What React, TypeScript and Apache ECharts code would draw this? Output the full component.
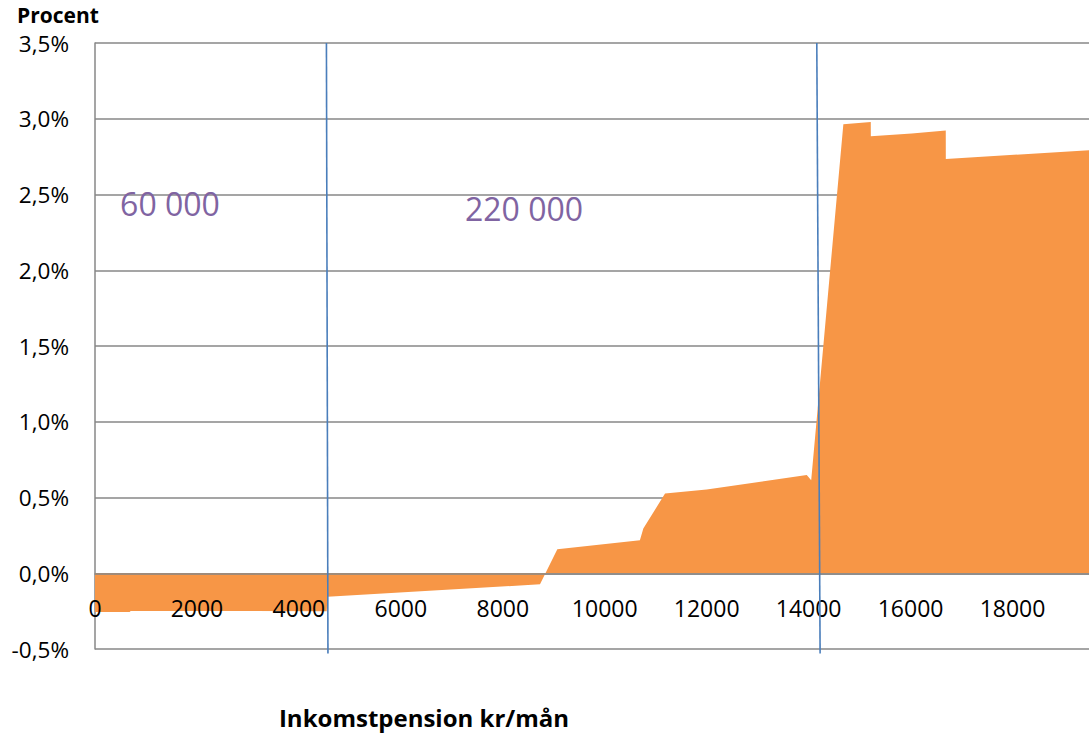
import React, { useEffect, useRef } from "react";
import * as echarts from "echarts";

// Inkomstpension (kr/mån) and change in percent
const areaX = [0, 680, 700, 4545, 4560, 8730, 9070, 10690, 10757, 11183, 12000, 13963, 14050, 14681, 15219, 15220, 16023, 16690, 16691, 19500];
const areaY = [-0.256, -0.256, -0.249, -0.25, -0.155, -0.073, 0.158, 0.218, 0.295, 0.526, 0.552, 0.649, 0.614, 2.964, 2.979, 2.884, 2.902, 2.922, 2.735, 2.792];

const line1X = [4540, 4570];
const line2X = [14160, 14225];
const lineY = [3.5, -0.53];

const yTicks = { min: -0.5, max: 3.5, interval: 0.5 };
const xTicks = { min: 0, max: 19500, interval: 2000 };

const annotations = [
  { text: "60 000", x: 170, y: 203 },
  { text: "220 000", x: 524, y: 208 },
];

const FONT = "'Open Sans', 'Noto Sans', sans-serif";

export default function App() {
  const ref = useRef<HTMLDivElement>(null);
  useEffect(() => {
    if (!ref.current) return;
    const chart = echarts.init(ref.current, null, { renderer: "svg" });
    const areaData = areaX.map((x, i) => [x, areaY[i]]);
    const l1 = line1X.map((x, i) => [x, lineY[i]]);
    const l2 = line2X.map((x, i) => [x, lineY[i]]);
    const gridTop = 43;
    const gridBottom = 88;
    const plotH = 737 - gridTop - gridBottom;
    const zeroOffset = -plotH * (0 - yTicks.min) / (yTicks.max - yTicks.min);
    chart.setOption({
      animation: false,
      backgroundColor: "#ffffff",
      textStyle: { fontFamily: FONT },
      grid: { left: 95, right: 0, top: gridTop, bottom: gridBottom, containLabel: false },
      xAxis: {
        type: "value",
        position: "bottom",
        offset: zeroOffset,
        min: xTicks.min,
        max: xTicks.max,
        interval: xTicks.interval,
        z: 5,
        axisLine: { show: true, onZero: false, lineStyle: { color: "#878787", width: 1.5 } },
        axisTick: { show: false },
        splitLine: { show: false },
        axisLabel: {
          show: true,
          margin: 23,
          fontSize: 23,
          color: "#000000",
          fontFamily: FONT,
          showMaxLabel: false,
          showMinLabel: true,
          formatter: (v: number) => String(v),
        },
      },
      yAxis: {
        type: "value",
        min: yTicks.min,
        max: yTicks.max,
        interval: yTicks.interval,
        axisLine: { show: true, lineStyle: { color: "#878787", width: 1.5 } },
        axisTick: { show: false },
        splitLine: { show: true, lineStyle: { color: "#878787", width: 1.5 } },
        axisLabel: {
          margin: 26,
          fontSize: 22.5,
          lineHeight: 18,
          color: "#000000",
          fontFamily: FONT,
          formatter: (v: number) => v.toFixed(1).replace(".", ",") + "%",
        },
      },
      series: [
        {
          type: "line",
          data: areaData,
          showSymbol: false,
          symbol: "none",
          lineStyle: { width: 0, color: "#F79646" },
          areaStyle: { color: "#F79646", opacity: 1 },
          itemStyle: { color: "#F79646" },
          z: 2,
        },
        {
          type: "line",
          data: l1,
          showSymbol: false,
          symbol: "none",
          clip: false,
          lineStyle: { width: 1.6, color: "#4A7EBB" },
          z: 6,
        },
        {
          type: "line",
          data: l2,
          showSymbol: false,
          symbol: "none",
          clip: false,
          lineStyle: { width: 1.6, color: "#4A7EBB" },
          z: 6,
        },
      ],
      graphic: [
        {
          type: "text",
          x: 17,
          y: 15,
          style: {
            text: "Procent",
            fontSize: 21,
            lineHeight: 20,
            fontWeight: "bold",
            fill: "#000000",
            fontFamily: FONT,
            textAlign: "left",
            textVerticalAlign: "middle",
          },
        },
        {
          type: "text",
          x: 424,
          y: 717,
          style: {
            text: "Inkomstpension kr/mån",
            fontSize: 24,
            fontWeight: "bold",
            fill: "#000000",
            fontFamily: FONT,
            textAlign: "center",
            textVerticalAlign: "middle",
          },
        },
        ...annotations.map((a) => ({
          type: "text",
          x: a.x,
          y: a.y,
          z: 10,
          style: {
            text: a.text,
            fontSize: 32,
            fill: "#8064A2",
            fontFamily: FONT,
            textAlign: "center",
            textVerticalAlign: "middle",
          },
        })),
      ],
    });
    return () => chart.dispose();
  }, []);
  return (
    <div
      ref={ref}
      style={{ position: "fixed", left: 0, top: 0, width: 1089, height: 737, background: "#fff" }}
    />
  );
}
